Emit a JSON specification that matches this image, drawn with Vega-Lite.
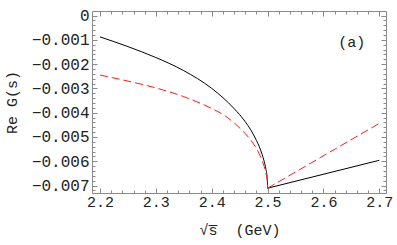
{
  "$schema": "https://vega.github.io/schema/vega-lite/v6.json",
  "width": 294,
  "height": 182,
  "autosize": {"type": "none"},
  "padding": {"left": 92, "top": 11, "right": 11, "bottom": 52},
  "background": "white",
  "config": {
    "view": {"stroke": "#8a8a8a", "strokeWidth": 1},
    "axis": {
      "labelFont": "Liberation Mono",
      "labelFontSize": 15,
      "labelColor": "#222",
      "titleFont": "Liberation Mono",
      "titleFontSize": 15,
      "titleFontWeight": "normal",
      "titleColor": "#222",
      "domain": false,
      "grid": false,
      "tickColor": "#8a8a8a",
      "tickWidth": 1
    }
  },
  "datasets": {
    "curves": [
      {"s": 2.2, "re": -0.00088, "model": "black", "branch": "below"},
      {"s": 2.25, "re": -0.00128, "model": "black", "branch": "below"},
      {"s": 2.3, "re": -0.00173, "model": "black", "branch": "below"},
      {"s": 2.35, "re": -0.00227, "model": "black", "branch": "below"},
      {"s": 2.4, "re": -0.003, "model": "black", "branch": "below"},
      {"s": 2.42, "re": -0.00338, "model": "black", "branch": "below"},
      {"s": 2.44, "re": -0.00383, "model": "black", "branch": "below"},
      {"s": 2.46, "re": -0.00437, "model": "black", "branch": "below"},
      {"s": 2.47, "re": -0.00471, "model": "black", "branch": "below"},
      {"s": 2.48, "re": -0.00514, "model": "black", "branch": "below"},
      {"s": 2.485, "re": -0.00539, "model": "black", "branch": "below"},
      {"s": 2.49, "re": -0.0057, "model": "black", "branch": "below"},
      {"s": 2.494, "re": -0.00601, "model": "black", "branch": "below"},
      {"s": 2.497, "re": -0.00632, "model": "black", "branch": "below"},
      {"s": 2.499, "re": -0.00663, "model": "black", "branch": "below"},
      {"s": 2.4998, "re": -0.0069, "model": "black", "branch": "below"},
      {"s": 2.5, "re": -0.00711, "model": "black", "branch": "below"},
      {"s": 2.5, "re": -0.00711, "model": "black", "branch": "above"},
      {"s": 2.7, "re": -0.00596, "model": "black", "branch": "above"},
      {"s": 2.2, "re": -0.00245, "model": "red", "branch": "below"},
      {"s": 2.25, "re": -0.0027, "model": "red", "branch": "below"},
      {"s": 2.3, "re": -0.00298, "model": "red", "branch": "below"},
      {"s": 2.35, "re": -0.00334, "model": "red", "branch": "below"},
      {"s": 2.4, "re": -0.00383, "model": "red", "branch": "below"},
      {"s": 2.42, "re": -0.00407, "model": "red", "branch": "below"},
      {"s": 2.44, "re": -0.00442, "model": "red", "branch": "below"},
      {"s": 2.46, "re": -0.00486, "model": "red", "branch": "below"},
      {"s": 2.47, "re": -0.00513, "model": "red", "branch": "below"},
      {"s": 2.48, "re": -0.00547, "model": "red", "branch": "below"},
      {"s": 2.485, "re": -0.00569, "model": "red", "branch": "below"},
      {"s": 2.49, "re": -0.00596, "model": "red", "branch": "below"},
      {"s": 2.494, "re": -0.00622, "model": "red", "branch": "below"},
      {"s": 2.497, "re": -0.00648, "model": "red", "branch": "below"},
      {"s": 2.499, "re": -0.00674, "model": "red", "branch": "below"},
      {"s": 2.4998, "re": -0.00693, "model": "red", "branch": "below"},
      {"s": 2.5, "re": -0.00711, "model": "red", "branch": "below"},
      {"s": 2.5, "re": -0.00711, "model": "red", "branch": "above"},
      {"s": 2.7, "re": -0.00444, "model": "red", "branch": "above"}
    ],
    "tag": [
      {"s": 2.6506, "re": -0.00108, "text": "(a)"}
    ]
  },
  "resolve": {"axis": {"x": "independent", "y": "independent"}},
  "layer": [
    {
      "data": {"name": "curves"},
      "transform": [{"filter": "datum.model === 'black'"}],
      "mark": {"type": "line", "color": "black", "strokeWidth": 1, "interpolate": "monotone"},
      "encoding": {
        "x": {
          "field": "s", "type": "quantitative",
          "scale": {"domain": [2.1857, 2.712], "nice": false, "zero": false},
          "axis": {
            "orient": "bottom",
            "values": [2.2, 2.22, 2.24, 2.26, 2.28, 2.3, 2.32, 2.34, 2.36, 2.38, 2.4, 2.42, 2.44, 2.46, 2.48, 2.5, 2.52, 2.54, 2.56, 2.58, 2.6, 2.62, 2.64, 2.66, 2.68, 2.7],
            "labelExpr": "abs(datum.value * 10 - round(datum.value * 10)) < 0.001 ? format(datum.value, '.1f') : ''",
            "tickSize": {"condition": {"test": "abs(datum.value * 10 - round(datum.value * 10)) < 0.001", "value": -5}, "value": -3},
            "labelPadding": 6,
            "labelFlush": false,
            "labelOverlap": false,
            "title": "√s̅\u00a0\u00a0(GeV)",
            "titleX": 188,
            "titleAlign": "right",
            "titleAnchor": null,
            "titlePadding": 11
          }
        },
        "y": {
          "field": "re", "type": "quantitative",
          "scale": {"domain": [-0.007307, 0.000186], "nice": false, "zero": false},
          "axis": {
            "orient": "left",
            "values": [-0.0072, -0.007, -0.0068, -0.0066, -0.0064, -0.0062, -0.006, -0.0058, -0.0056, -0.0054, -0.0052, -0.005, -0.0048, -0.0046, -0.0044, -0.0042, -0.004, -0.0038, -0.0036, -0.0034, -0.0032, -0.003, -0.0028, -0.0026, -0.0024, -0.0022, -0.002, -0.0018, -0.0016, -0.0014, -0.0012, -0.001, -0.0008, -0.0006, -0.0004, -0.0002, 0],
            "labelExpr": "abs(datum.value * 1000 - round(datum.value * 1000)) < 0.01 ? (datum.value == 0 ? '0' : format(datum.value, '.3f')) : ''",
            "tickSize": {"condition": {"test": "abs(datum.value * 1000 - round(datum.value * 1000)) < 0.01", "value": -5}, "value": -3},
            "labelFontSize": 16,
            "labelPadding": 8,
            "labelFlush": false,
            "labelOverlap": false,
            "title": "Re G(s)",
            "titlePadding": 12
          }
        },
        "detail": {"field": "branch"}
      }
    },
    {
      "data": {"name": "curves"},
      "transform": [{"filter": "datum.model === 'red'"}],
      "mark": {"type": "line", "color": "#ff1a1a", "strokeWidth": 1, "strokeDash": [8, 4], "interpolate": "monotone"},
      "encoding": {
        "x": {
          "field": "s", "type": "quantitative",
          "scale": {"domain": [2.1857, 2.712], "nice": false, "zero": false},
          "axis": {
            "orient": "top",
            "values": [2.2, 2.22, 2.24, 2.26, 2.28, 2.3, 2.32, 2.34, 2.36, 2.38, 2.4, 2.42, 2.44, 2.46, 2.48, 2.5, 2.52, 2.54, 2.56, 2.58, 2.6, 2.62, 2.64, 2.66, 2.68, 2.7],
            "labels": false,
            "tickSize": {"condition": {"test": "abs(datum.value * 10 - round(datum.value * 10)) < 0.001", "value": -5}, "value": -3},
            "title": null
          }
        },
        "y": {
          "field": "re", "type": "quantitative",
          "scale": {"domain": [-0.007307, 0.000186], "nice": false, "zero": false},
          "axis": {
            "orient": "right",
            "values": [-0.0072, -0.007, -0.0068, -0.0066, -0.0064, -0.0062, -0.006, -0.0058, -0.0056, -0.0054, -0.0052, -0.005, -0.0048, -0.0046, -0.0044, -0.0042, -0.004, -0.0038, -0.0036, -0.0034, -0.0032, -0.003, -0.0028, -0.0026, -0.0024, -0.0022, -0.002, -0.0018, -0.0016, -0.0014, -0.0012, -0.001, -0.0008, -0.0006, -0.0004, -0.0002, 0],
            "labels": false,
            "tickSize": {"condition": {"test": "abs(datum.value * 1000 - round(datum.value * 1000)) < 0.01", "value": -5}, "value": -3},
            "title": null
          }
        },
        "detail": {"field": "branch"}
      }
    },
    {
      "data": {"name": "tag"},
      "mark": {"type": "text", "font": "Liberation Mono", "fontSize": 15, "color": "#222", "align": "center", "baseline": "middle"},
      "encoding": {
        "x": {"field": "s", "type": "quantitative", "scale": {"domain": [2.1857, 2.712], "nice": false, "zero": false}, "axis": null},
        "y": {"field": "re", "type": "quantitative", "scale": {"domain": [-0.007307, 0.000186], "nice": false, "zero": false}, "axis": null},
        "text": {"field": "text"}
      }
    }
  ]
}
